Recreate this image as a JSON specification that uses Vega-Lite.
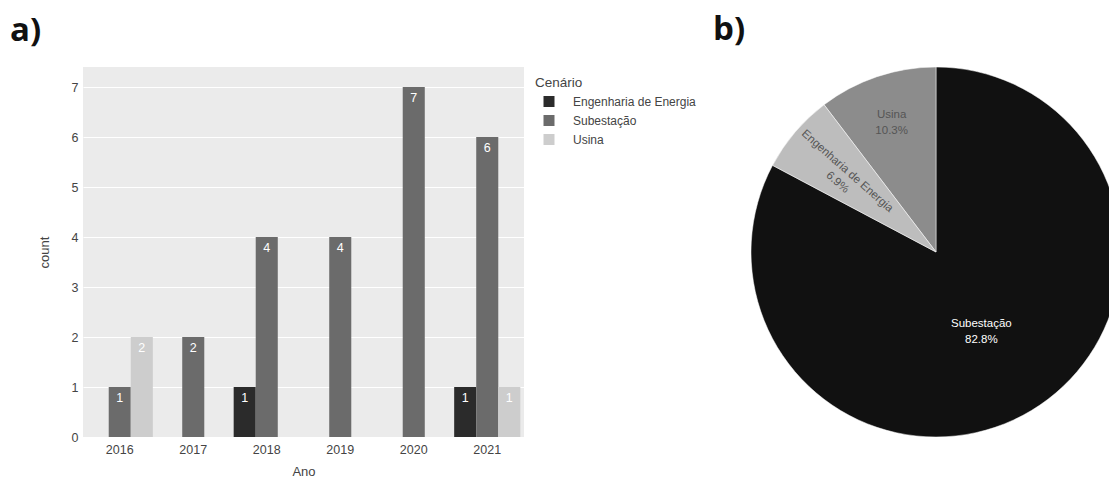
{
  "$schema": "https://vega.github.io/schema/vega-lite/v6.json",
  "autosize": {"type": "pad"},
  "padding": {"left": 10, "top": 14, "right": 0, "bottom": 0},
  "background": "white",
  "config": {
    "font": "Liberation Sans",
    "view": {"stroke": null},
    "title": {"font": "Open Sans", "fontSize": 33, "fontWeight": "bold", "color": "#111111", "anchor": "start", "frame": "group", "baseline": "alphabetic", "offset": 19},
    "axis": {"labelColor": "#444444", "titleColor": "#444444", "labelFont": "Liberation Sans", "titleFont": "Liberation Sans", "titleFontWeight": "normal", "labelFontSize": 12.5, "titleFontSize": 13, "domain": false, "ticks": false}
  },
  "datasets": {
    "trabalhos": [
      {"ano": "2016", "cenario": "Subestação", "count": 1},
      {"ano": "2016", "cenario": "Usina", "count": 2},
      {"ano": "2017", "cenario": "Subestação", "count": 2},
      {"ano": "2018", "cenario": "Engenharia de Energia", "count": 1},
      {"ano": "2018", "cenario": "Subestação", "count": 4},
      {"ano": "2019", "cenario": "Subestação", "count": 4},
      {"ano": "2020", "cenario": "Subestação", "count": 7},
      {"ano": "2021", "cenario": "Engenharia de Energia", "count": 1},
      {"ano": "2021", "cenario": "Subestação", "count": 6},
      {"ano": "2021", "cenario": "Usina", "count": 1}
    ]
  },
  "resolve": {"scale": {"color": "independent", "theta": "independent"}},
  "bounds": "flush",
  "spacing": 227,
  "hconcat": [
    {
      "title": {"text": "a)", "dx": -73},
      "width": 441,
      "height": 370,
      "view": {"fill": "#ebebeb", "stroke": null},
      "data": {"name": "trabalhos"},
      "encoding": {
        "x": {
          "field": "ano", "type": "ordinal", "title": "Ano",
          "scale": {"paddingInner": 0.1, "paddingOuter": 0.05},
          "axis": {"labelAngle": 0, "labelPadding": 6, "titlePadding": 10, "grid": false}
        },
        "xOffset": {
          "field": "cenario", "type": "nominal",
          "scale": {"domain": ["Engenharia de Energia", "Subestação", "Usina"], "paddingInner": 0, "paddingOuter": 0}
        },
        "y": {
          "field": "count", "type": "quantitative", "title": "count",
          "scale": {"domain": [0, 7.4], "nice": false},
          "axis": {"values": [0, 1, 2, 3, 4, 5, 6, 7], "grid": true, "gridColor": "white", "gridWidth": 1, "labelPadding": 5, "titlePadding": 20}
        }
      },
      "layer": [
        {
          "mark": {"type": "bar"},
          "encoding": {
            "color": {
              "field": "cenario", "type": "nominal", "title": "Cenário",
              "scale": {"domain": ["Engenharia de Energia", "Subestação", "Usina"], "range": ["#2b2b2b", "#6b6b6b", "#cdcdcd"]},
              "legend": {
                "orient": "none", "legendX": 452, "legendY": 9, "padding": 0,
                "symbolType": "square", "symbolSize": 121, "symbolStrokeWidth": 0, "symbolOffset": 8,
                "labelOffset": 18, "labelFontSize": 12, "labelColor": "#444444",
                "titleFontSize": 13.5, "titleFontWeight": "normal", "titleColor": "#444444", "titlePadding": 6,
                "rowPadding": 7
              }
            }
          }
        },
        {
          "mark": {"type": "text", "baseline": "top", "dy": 5, "color": "white", "fontSize": 12.5},
          "encoding": {"text": {"field": "count", "type": "quantitative"}}
        }
      ]
    },
    {
      "title": {"text": "b)", "dx": -38},
      "width": 370,
      "height": 370,
      "data": {"name": "trabalhos"},
      "transform": [
        {"aggregate": [{"op": "sum", "field": "count", "as": "total"}], "groupby": ["cenario"]},
        {"joinaggregate": [{"op": "sum", "field": "total", "as": "geral"}]},
        {"calculate": "indexof(['Subestação', 'Engenharia de Energia', 'Usina'], datum.cenario)", "as": "ordem"},
        {"stack": "total", "groupby": [], "sort": [{"field": "ordem", "order": "ascending"}], "as": ["t0", "t1"]},
        {"calculate": "(datum.t0 + datum.t1) / 2", "as": "meio"},
        {"calculate": "datum.cenario + '\\n' + format(datum.total / datum.geral, '.1%')", "as": "rotulo"}
      ],
      "layer": [
        {
          "mark": {"type": "arc", "stroke": "white", "strokeWidth": 0.5},
          "encoding": {
            "theta": {"field": "t0", "type": "quantitative", "stack": null, "scale": {"domain": [0, 29]}},
            "theta2": {"field": "t1"},
            "color": {
              "field": "cenario", "type": "nominal",
              "scale": {"domain": ["Subestação", "Engenharia de Energia", "Usina"], "range": ["#111111", "#bdbdbd", "#8c8c8c"]},
              "legend": null
            }
          }
        },
        {
          "transform": [{"filter": "datum.cenario === 'Subestação'"}],
          "mark": {"type": "text", "radius": 88, "dx": 0, "dy": -3, "color": "white", "fontSize": 11.5, "lineHeight": 16, "lineBreak": "\n", "align": "center", "baseline": "middle"},
          "encoding": {
            "theta": {"field": "meio", "type": "quantitative", "stack": null},
            "text": {"field": "rotulo"}
          }
        },
        {
          "transform": [{"filter": "datum.cenario === 'Usina'"}],
          "mark": {"type": "text", "radius": 142, "dx": 1, "dy": -2, "color": "#555555", "fontSize": 11.5, "lineHeight": 16, "lineBreak": "\n", "align": "center", "baseline": "middle"},
          "encoding": {
            "theta": {"field": "meio", "type": "quantitative", "stack": null},
            "text": {"field": "rotulo"}
          }
        },
        {
          "transform": [{"filter": "datum.cenario === 'Engenharia de Energia'"}],
          "mark": {"type": "text", "radius": 122, "dx": 2, "dy": -4, "angle": 41.5, "color": "#555555", "fontSize": 11.5, "lineHeight": 15, "lineBreak": "\n", "align": "center", "baseline": "middle"},
          "encoding": {
            "theta": {"field": "meio", "type": "quantitative", "stack": null},
            "text": {"field": "rotulo"}
          }
        }
      ]
    }
  ]
}
